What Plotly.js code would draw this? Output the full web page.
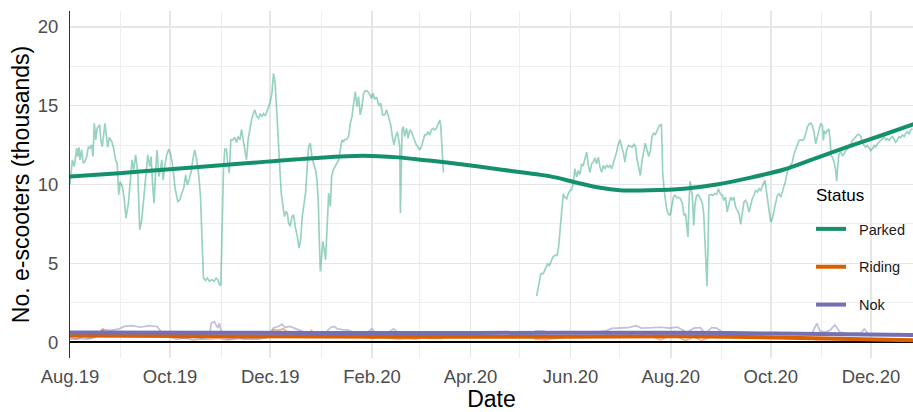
<!DOCTYPE html>
<html>
<head>
<meta charset="utf-8">
<script src="https://cdn.plot.ly/plotly-3.0.1.min.js"></script>
<style>html,body{margin:0;padding:0;background:#fff}#chart{width:913px;height:412px}</style>
</head>
<body>
<div id="chart"></div>
<script>
// Days are counted from this start date
const startDate = '2019-08-01';

// ---- Parked (raw daily counts, thousands) ----
const parkedDays = [0,1.4,2.6,4.1,4.7,5.5,6.1,7.1,8.1,9.1,10.2,11.2,12.2,13.2,14.0,14.8,15.7,16.5,17.3,18.1,18.9,19.7,21.3,23.0,24.0,25.4,26.6,27.8,28.7,29.7,30.5,31.9,33.1,34.1,35.6,36.8,37.8,38.8,40.0,41.3,42.5,43.7,44.9,46.1,47.4,48.6,49.4,50.4,51.2,52.2,53.0,54.1,55.1,55.9,56.7,57.7,58.9,60.2,61.4,62.6,64.0,65.7,66.9,68.1,69.3,70.5,71.5,72.6,73.8,75.0,76.0,77.2,78.5,79.5,80.1,80.7,81.3,82.5,83.7,84.9,86.4,87.8,89.0,90.0,91.1,91.9,92.5,92.9,93.5,94.3,95.3,96.1,97.0,98.0,99.2,100.4,101.4,102.4,103.5,104.5,105.5,106.5,107.5,108.5,109.6,110.6,111.6,112.6,113.6,
114.9,115.9,116.9,117.9,118.9,120,121,122,123,124,125,125.9,126.7,127.5,128.7,129.9,130.7,131.6,132.4,133.2,134.2,135.2,136.2,137.2,138.5,139.5,140.5,141.5,142.5,143.5,144.4,145.4,146.4,147.4,148.6,149.6,150.5,151.3,151.9,152.5,153.3,154.1,154.9,155.7,156.3,156.9,157.6,158.6,159.4,160.4,161.6,162.6,163.7,164.7,165.7,166.7,167.7,168.7,169.7,170.8,171.8,172.8,173.8,174.8,175.8,176.8,177.9,178.9,179.9,181.1,182.3,183.6,184.6,185.6,186.8,188.1,189.3,190.5,191.7,192.9,194.2,195.4,196.4,197.4,198.4,199.4,200.3,200.9,201.3,201.7,202.3,203.1,203.9,205,206,207,208,209,210,211,212,213,214,215.1,216.1,217.1,218.1,219.2,220.2,221.2,222.2,223.2,224.2,225.3,225.9,226.5,227.1,227.5,
255,
284.3,286.9,288.3,289.8,291.0,292.0,293.0,294.2,295.4,296.7,297.7,298.5,299.5,300.5,301.5,302.6,303.6,304.6,305.6,306.6,307.6,308.7,309.7,310.7,311.7,312.7,313.7,314.8,315.8,316.8,317.8,318.8,319.8,320.8,321.9,322.9,323.9,324.9,325.9,327,328,329,330,331,332,333,334.1,335.1,336.1,337.1,338.1,339.1,340.2,341.4,342.6,343.6,344.6,345.4,346.5,347.5,348.5,349.5,350.5,351.5,352.6,353.6,354.6,355.6,356.6,357.6,358.7,359.7,360.3,360.7,361.1,361.9,362.7,363.5,364.5,365.6,366.6,367.6,368.6,369.6,370.6,371.9,373.1,374.1,375.0,375.7,376.5,377.2,377.8,378.4,379.2,380.0,380.8,381.8,382.8,384.1,385.3,386.1,386.7,387.5,388.1,388.7,389.3,390.4,391.6,392.8,394.0,
395.0,396.2,397.4,398.4,399.4,400.4,401.5,402.5,403.5,404.5,405.5,406.6,407.6,408.6,409.6,410.6,411.6,412.6,413.7,414.7,415.7,416.7,417.7,418.7,419.8,420.8,421.8,422.8,423.4,424.2,425.0,425.9,426.9,427.9,428.9,429.9,430.9,432.0,433.0,434.0,435.0,436.0,437.0,438.1,439.1,440.1,441.1,442.1,443.1,444.2,445.2,446.2,447.2,448.2,449.2,450.3,451.3,452.3,453.3,454.3,455.3,456.4,457.4,458.4,459.0,459.6,460.4,461.4,462.4,463.1,463.7,464.5,465.5,466.5,467.1,467.7,468.5,469.6,470.6,471.6,472.6,473.6,474.6,475.7,476.7,477.7,478.7,479.7,480.7,481.8,482.8,483.8,484.8,485.8,486.8,487.8,488.9,489.9,490.9,491.9,492.9,493.9,495.0,496.0,497.0,498.0,499.0,500.0,501.1,502.1,503.1,504.1,505.1,506.1,507.2,508.2,509.2,510.2,511.2,512.2,513.3];
const parkedRaw = [10.0,11.56,11.14,12.30,11.77,12.36,11.56,12.19,11.35,11.46,11.77,12.40,12.30,12.51,11.77,13.88,12.83,13.56,13.67,13.78,12.72,12.40,13.88,12.36,12.99,12.72,12.30,11.56,11.35,9.35,10.19,9.87,9.03,7.87,8.82,10.51,11.56,10.93,11.88,10.72,7.13,7.76,9.24,10.51,11.88,11.14,11.77,9.87,8.82,10.93,12.19,10.51,10.93,11.56,10.30,11.14,11.88,12.24,11.88,11.14,9.77,8.92,9.03,9.45,9.77,10.61,9.98,10.30,10.82,11.67,12.19,11.56,10.51,9.24,7.34,4.81,4.07,3.92,4.07,3.86,3.97,3.86,4.07,3.97,3.65,3.59,6.08,8.82,10.93,12.24,12.24,11.35,10.72,12.83,12.83,12.99,12.66,13.04,12.83,13.50,12.93,12.19,11.56,12.83,13.56,14.09,14.47,14.73,14.35,
14.2,14.5,14.3,14.5,14.35,14.62,14.94,15.25,15.78,17.05,16.41,14.73,13.04,10.93,9.45,8.50,7.97,8.29,8.19,7.55,7.34,7.97,8.08,7.34,6.71,5.97,6.50,7.97,8.82,9.45,10.93,12.40,12.62,11.77,11.24,10.93,10.30,8.82,6.50,4.49,5.44,6.39,5.86,5.23,6.50,8.40,9.45,8.61,10.51,10.93,11.14,11.35,11.56,12.19,12.83,12.72,12.87,12.87,13.04,13.88,14.30,15.15,15.89,14.94,15.57,14.41,14.94,15.78,15.95,15.93,15.78,15.46,15.78,15.40,15.53,15.04,15.15,14.41,14.41,14.73,14.30,13.78,13.04,12.51,13.04,13.35,12.83,12.40,8.19,11.14,13.46,13.67,13.04,13.56,12.93,13.46,13.35,13.04,12.72,12.51,12.40,12.19,12.36,12.72,13.14,13.14,13.35,13.14,13.46,13.56,13.46,13.56,13.78,14.09,13.67,12.40,11.14,10.76,
null,
2.92,4.35,4.35,4.77,4.98,4.83,5.09,5.40,5.51,5.51,6.04,7.09,8.36,9.41,9.20,9.10,9.41,9.62,9.67,10.05,11.0,10.47,10.89,10.64,11.27,11.21,11.63,12.05,11.21,10.78,11.31,11.42,11.69,11.31,11.73,11.10,10.78,11.21,11.0,11.21,11.10,11.21,11.0,11.31,11.73,12.05,12.58,12.83,12.37,12.05,11.42,12.16,12.47,12.41,12.37,12.58,12.37,11.63,11.0,10.57,11.52,12.16,12.62,12.20,11.78,12.16,13.04,13.25,13.17,13.38,13.67,13.80,13.80,12.58,10.78,9.73,9.10,8.46,8.15,8.04,8.57,9.20,9.31,9.16,9.20,9.10,8.78,8.04,8.15,7.30,6.67,9.0,10.21,9.79,9.20,7.41,8.78,9.31,9.35,9.10,8.78,8.15,6.46,4.56,3.55,6.04,9.31,9.37,9.31,9.41,9.37,
9.73,9.41,9.31,8.99,9.20,8.25,8.78,9.20,8.99,9.20,8.57,8.36,8.15,7.47,8.36,8.89,8.99,8.78,8.25,8.78,9.10,9.31,9.62,9.52,9.73,9.62,9.94,10.15,10.26,9.62,8.89,8.15,7.62,7.83,8.36,8.99,9.31,9.41,9.20,9.52,9.83,10.26,10.78,11.10,11.21,11.42,11.94,12.16,12.47,12.79,12.83,12.79,12.89,13.21,13.63,13.84,13.89,13.74,13.32,12.58,13.0,13.63,13.89,13.74,12.79,13.42,13.21,13.42,13.53,12.79,11.84,11.73,11.42,10.89,10.21,11.10,11.94,12.05,11.84,11.94,12.16,12.26,12.37,12.58,12.79,12.89,13.04,13.15,13.17,13.04,12.68,12.47,12.37,12.47,12.32,12.16,12.26,12.47,12.37,12.58,12.68,12.79,12.89,13.0,12.83,12.89,12.79,12.96,13.04,12.89,12.68,12.83,13.04,12.96,13.15,13.04,13.25,13.34,13.21,13.46,13.53];

// ---- Riding (raw) ----
const ridingDays = [0,4,8,12,16,20,22,26,30,35,40,45,50,55,60,65,70,75,80,85,90,95,100,105,110,115,120,124,127,130,133,137,141,145,147,150,155,160,165,170,175,180,185,190,195,200,205,210,215,220,227,255,283,290,295,300,305,310,315,320,325,330,335,340,345,350,355,360,365,370,375,380,385,390,395,400,410,420,430,440,450,455,460,470,480,490,500,510,514];
const ridingRaw = [0.3,0.2,0.35,0.25,0.4,0.85,0.5,0.45,0.5,0.45,0.5,0.4,0.45,0.4,0.35,0.2,0.25,0.15,0.2,0.2,0.25,0.15,0.2,0.25,0.2,0.25,0.3,0.8,0.75,0.85,0.6,0.5,0.45,0.55,0.75,0.5,0.45,0.4,0.35,0.3,0.35,0.3,0.25,0.3,0.25,0.2,0.25,0.2,0.3,0.25,0.25,null,0.2,0.15,0.25,0.3,0.35,0.3,0.4,0.35,0.4,0.45,0.4,0.45,0.4,0.45,0.35,0.15,0.4,0.35,0.1,0.35,0.1,0.35,0.4,0.35,0.3,0.3,0.25,0.3,0.25,0.15,0.2,0.15,0.15,0.1,0.12,0.1,0.1];

// ---- Nok (raw) ----
const nokDays = [0,5,10,15,20,25,30,33,38,43,48,53,56,60,65,70,75,80,85,86,88,90,91,93,97,102,106,110,115,120,124,127,129,131,134,137,140,145,150,155,159,161,163,166,170,174,180,184,186,190,194,197,200,205,210,215,220,227,255,283,288,292,300,310,320,326,330,335,340,345,348,355,360,365,370,372,376,380,384,387,391,394,398,405,415,425,435,445,452,455,457,460,463,466,469,474,478,482,484,486,492,500,505,510,514];
const nokRaw = [0.2,0.25,0.2,0.3,0.8,0.75,0.85,1.0,1.05,0.95,1.05,1.0,0.6,0.4,0.3,0.25,0.3,0.25,0.35,1.2,1.3,0.9,1.2,0.3,0.2,0.3,0.2,0.25,0.2,0.3,0.9,1.0,1.15,0.95,1.0,0.85,0.75,0.55,0.6,0.55,0.95,1.0,0.85,0.8,0.75,0.55,0.55,0.85,0.6,0.55,0.6,0.85,0.6,0.55,0.6,0.55,0.6,0.6,null,0.7,0.72,0.6,0.6,0.62,0.65,0.7,0.88,0.9,0.92,1.05,0.9,0.92,0.95,0.9,0.95,0.85,0.6,0.9,0.92,0.55,0.92,0.9,0.6,0.55,0.55,0.55,0.5,0.55,0.55,1.2,0.7,0.65,0.75,1.1,0.65,0.55,0.55,0.6,0.85,0.55,0.45,0.45,0.5,0.45,0.45];

// ---- Smoothed trends ----
const parkedSmoothDays = [0,30,59,90,120,150,178,200,215,232,262,292,309,323,335,353,374,394,414,435,455,475,496,514];
const parkedSmooth = [10.5,10.72,10.95,11.2,11.45,11.68,11.82,11.72,11.56,11.37,10.95,10.53,10.11,9.79,9.64,9.63,9.73,10.0,10.42,10.95,11.69,12.43,13.17,13.82];
const ridingSmoothDays = [0,100,200,300,370,430,514];
const ridingSmooth = [0.42,0.38,0.34,0.35,0.38,0.3,0.12];
const nokSmoothDays = [0,100,200,300,370,430,514];
const nokSmooth = [0.62,0.6,0.58,0.6,0.6,0.55,0.45];

const seriesNames = ['Parked','Riding','Nok'];
const legendTitle = 'Status';
const colors = {Parked:'#14916c', Riding:'#D95F02', Nok:'#7570B3'};
const rawColors = {Parked:'rgba(27,158,119,0.45)', Riding:'rgba(217,95,2,0.45)', Nok:'rgba(117,112,179,0.45)'};
const axisEndDay = 513.6;

const base = Date.UTC(2019,7,1);
function toDate(d){ return new Date(base + d*86400000).toISOString().slice(0,19).replace('T',' '); }

const rawSets = {Parked:[parkedDays,parkedRaw], Riding:[ridingDays,ridingRaw], Nok:[nokDays,nokRaw]};
const smoothSets = {Parked:[parkedSmoothDays,parkedSmooth], Riding:[ridingSmoothDays,ridingSmooth], Nok:[nokSmoothDays,nokSmooth]};

const traces = [];
seriesNames.forEach(n => {
  traces.push({type:'scatter', mode:'lines', x:rawSets[n][0].map(toDate), y:rawSets[n][1],
    line:{color:rawColors[n], width:1.7}, showlegend:false, hoverinfo:'skip', connectgaps:false});
});
seriesNames.forEach(n => {
  // two no-break spaces widen the gap between legend key and label, as in the original
  traces.push({type:'scatter', mode:'lines', name:'\u00a0\u00a0' + n, legendgroup:n, x:smoothSets[n][0].map(toDate), y:smoothSets[n][1],
    line:{color:colors[n], width:4, shape:'spline', smoothing:0.8}});
});

const font = 'Liberation Sans, Arial, Helvetica, sans-serif';
const layout = {
  width:913, height:412,
  margin:{l:70, r:0, t:11, b:54},
  paper_bgcolor:'#fff', plot_bgcolor:'#fff',
  font:{family:font, color:'#000'},
  showlegend:true,
  xaxis:{
    type:'date', range:[toDate(0), toDate(axisEndDay)],
    tick0:startDate, dtick:'M2', tickformat:'%b.%y',
    showgrid:true, gridcolor:'#e6e6e6', gridwidth:1.6,
    minor:{dtick:'M1', tick0:startDate, showgrid:true, gridcolor:'#eeeeee', gridwidth:1},
    zeroline:false, showline:false, ticks:'', ticklabelstandoff:5,
    tickfont:{size:18.5, color:'#4d4d4d'},
    title:{text:'Date', font:{size:23, color:'#000'}, standoff:14},
    automargin:false
  },
  yaxis:{
    range:[-1,21], tick0:0, dtick:5,
    showgrid:true, gridcolor:'#e6e6e6', gridwidth:1.6,
    minor:{dtick:2.5, tick0:0, showgrid:true, gridcolor:'#eeeeee', gridwidth:1},
    zeroline:true, zerolinecolor:'#000', zerolinewidth:1.5,
    showline:true, linecolor:'#333', linewidth:1,
    ticks:'', ticklabelstandoff:7,
    tickfont:{size:18.5, color:'#4d4d4d'},
    title:{text:'No. e-scooters (thousands)', font:{size:23, color:'#000'}, standoff:1},
    automargin:false
  },
  legend:{
    x:0.879, xanchor:'left', y:0.418, yanchor:'top',
    bgcolor:'rgba(0,0,0,0)', borderwidth:0,
    font:{size:14.5, color:'#1a1a1a'},
    tracegroupgap:16, itemwidth:30
  },
  annotations:[{text:legendTitle, xref:'paper', yref:'paper', x:0.8826, y:0.4697,
    xanchor:'left', yanchor:'middle', showarrow:false, font:{size:17, color:'#000'}}]
};

Plotly.newPlot('chart', traces, layout, {displayModeBar:false, staticPlot:true});
</script>
</body>
</html>
